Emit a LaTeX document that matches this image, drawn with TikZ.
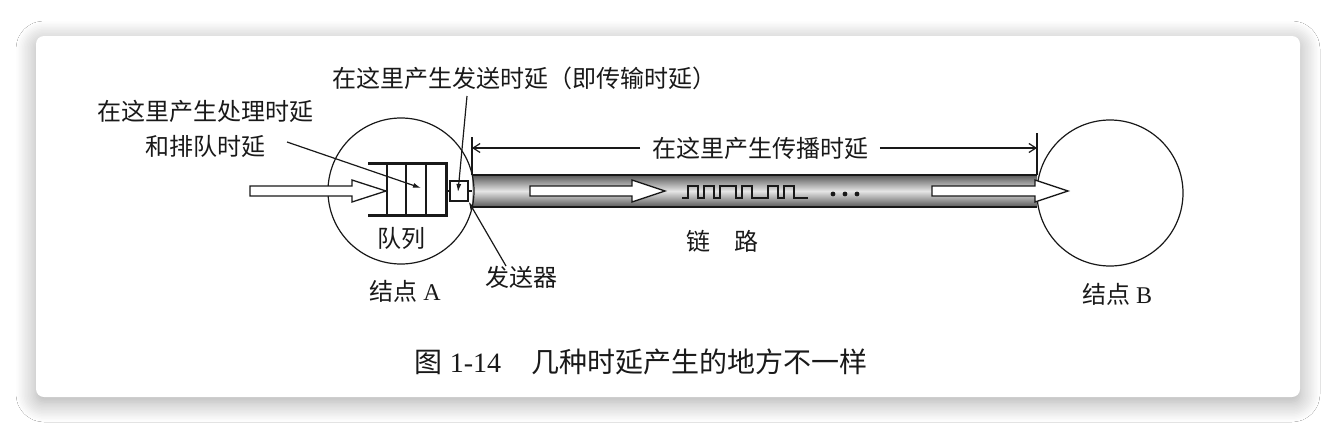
\documentclass[tikz,border=0pt]{standalone}
\usepackage{fontspec}
\setmainfont{Liberation Serif}
\newfontfamily\cjk{Noto Sans CJK SC}
\usepackage{tikz}
\usetikzlibrary{arrows.meta,shadows.blur}
% hollow arrow: start x, head x, tip x, y
\newcommand{\hollowarrow}[4]{\draw[line width=1.3pt,fill=white] (#1,#4-5) -- (#2,#4-5) -- (#2,#4-11) -- (#3,#4) -- (#2,#4+11) -- (#2,#4+5) -- (#1,#4+5) -- cycle;}
\newcommand{\zhlabel}[3]{\node[font=\cjk\fontsize{24}{35}\selectfont,align=center] (#1) at #2 {#3};}

\begin{document}
\begin{tikzpicture}[x=1pt,y=-1pt,line width=1.2pt,color=black!90]
\useasboundingbox (0,0) rectangle (1336,434);
\fill[white] (0,0) rectangle (1336,434);
% ---- card
\fill[white,rounded corners=8pt,blur shadow={shadow xshift=0pt,shadow yshift=-5pt,shadow blur radius=20pt,shadow blur steps=14,shadow opacity=35}] (36,36) rectangle (1300,397);

% ---- link pipe
\shade[top color=gray!70!black,bottom color=gray!70!black,middle color=gray!20] (472,175) rectangle (1037,207);
\draw (472,175) -- (1037,175);
\draw (472,207) -- (1037,207);

% ---- nodes A and B
\node[circle,draw,minimum size=146pt,inner sep=0] (nodeA) at (401,191) {};
\node[circle,draw,minimum size=146pt,inner sep=0] (nodeB) at (1110,193) {};

% ---- queue and transmitter
\draw[line width=3pt] (368,163) -- (446,163) -- (446,215) -- (368,215);
\foreach \x in {387,406,426} \draw[line width=1.5pt] (\x,163) -- (\x,215);
\coordinate (qR) at (446,191);
\coordinate (pipeL) at (472,191);
\node[draw,fill=white,minimum width=18pt,minimum height=20pt,inner sep=0] (tx) at (459,191) {};
\draw[line width=2.5pt] (qR) -- (tx.west);
\draw[line width=2.5pt] (tx.east) -- (pipeL);

% ---- hollow arrows
\hollowarrow{250}{352}{386}{191}
\hollowarrow{530}{632}{665}{191}
\hollowarrow{932}{1035}{1068}{191}

% ---- bits on the link
\draw (682,198) -- ++(6,0) -- ++(0,-12) -- ++(10,0) -- ++(0,12) -- ++(6,0) -- ++(0,-12) -- ++(10,0) -- ++(0,12)
  -- ++(6,0) -- ++(0,-12) -- ++(16,0) -- ++(0,12) -- ++(6,0) -- ++(0,-12) -- ++(10,0) -- ++(0,12)
  -- ++(16,0) -- ++(0,-12) -- ++(10,0) -- ++(0,12) -- ++(6,0) -- ++(0,-12) -- ++(10,0) -- ++(0,12) -- ++(14,0);
\foreach \x in {833,845,857} \fill (\x,194) circle (2.4pt);

% ---- propagation dimension
\coordinate (tickL) at (472,148);
\coordinate (tickR) at (1037,148);
\draw (472,137) -- (472,175);
\draw (1037,133) -- (1037,175);
\zhlabel{prop}{(760,148)}{在这里产生传播时延}
\draw[-{Straight Barb[length=7pt,width=9pt]}] ([xshift=-8pt]prop.west) -- (tickL);
\draw[-{Straight Barb[length=7pt,width=9pt]}] ([xshift=8pt]prop.east) -- (tickR);

% ---- labels
\zhlabel{send}{(524,78)}{在这里产生发送时延（即传输时延）}
\zhlabel{proc}{(205,129)}{在这里产生处理时延\\和排队时延}
\zhlabel{queue}{(401,238)}{队列}
\zhlabel{txlbl}{(521,277)}{发送器}
\zhlabel{link}{(722,241)}{链\quad 路}
\node[font=\fontsize{24}{28}\selectfont] (labA) at (405,291) {{\cjk 结点} A};
\node[font=\fontsize{24}{28}\selectfont] (labB) at (1117,294) {{\cjk 结点} B};
\node[font=\fontsize{28}{30}\selectfont] (caption) at (641,362) {{\cjk 图} 1-14\hspace{30pt}{\cjk 几种时延产生的地方不一样}};

% ---- pointers
\coordinate (s0) at (467,96);
\coordinate (s1) at (458,192);
\draw[-{Latex[length=8pt,width=5pt]}] (s0) -- (s1);
\coordinate (p0) at (287,142);
\coordinate (p1) at (421,188);
\draw[-{Latex[length=8pt,width=5pt]}] (p0) -- (p1);
\coordinate (t0) at (506,266);
\draw[-{Latex[length=8pt,width=5pt]}] (t0) -- (tx.south east);
\end{tikzpicture}
\end{document}
